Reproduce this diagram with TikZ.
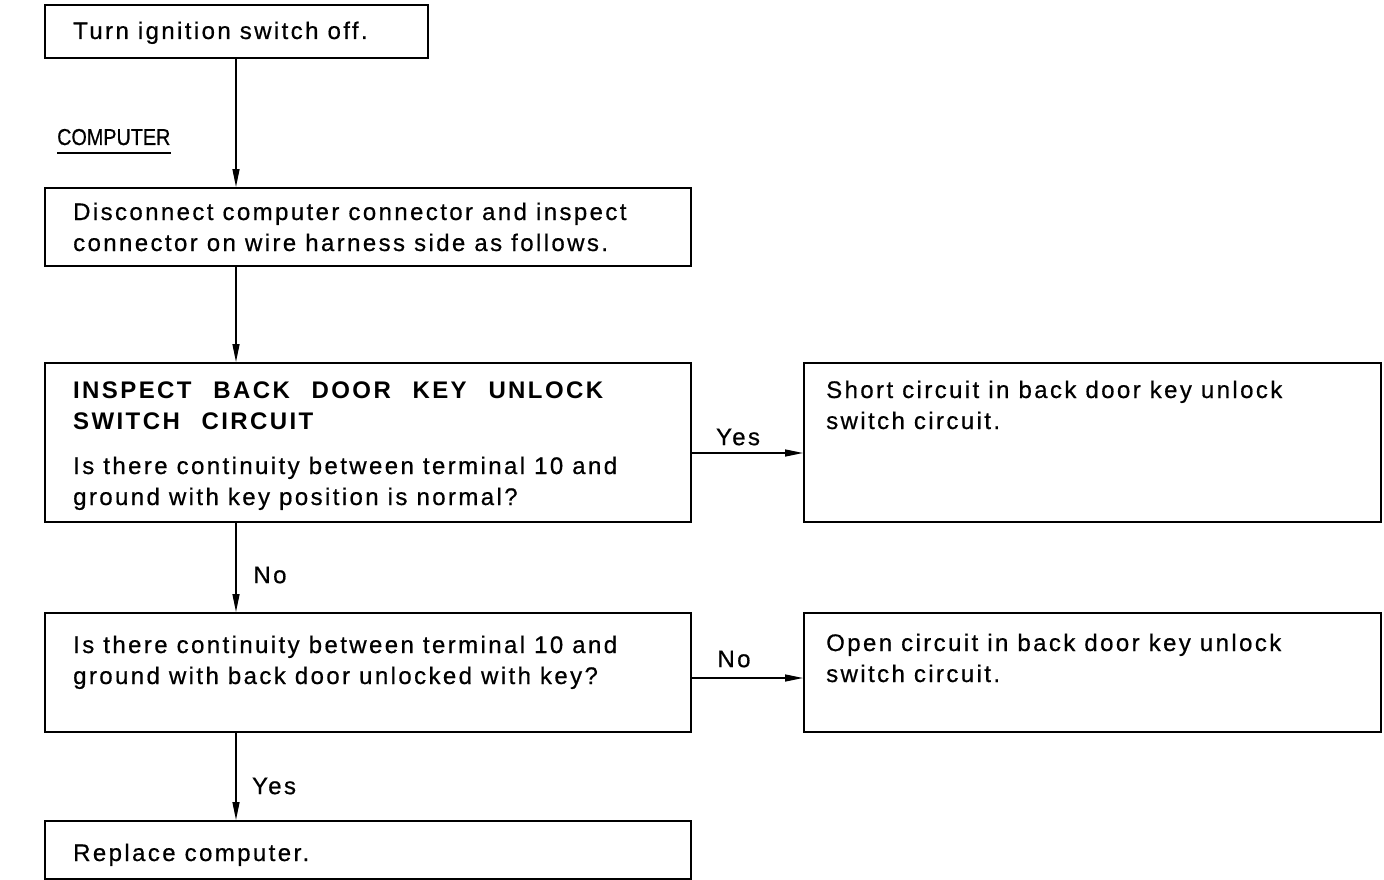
\documentclass[tikz,border=0pt]{standalone}
\usepackage{fontspec}
\setmainfont[LetterSpace=10,FakeBold=0.6,BoldFeatures={WordSpace=2.4,FakeBold=0}]{Liberation Sans}
\newfontfamily\plainsf{Liberation Sans}[FakeBold=0.6]
\usetikzlibrary{arrows.meta}
\tikzset{
  box/.style={draw, line width=1.6pt, inner sep=0pt, anchor=north west},
  txt/.style={inner sep=0pt, anchor=base west, align=left, font=\fontsize{24}{31}\selectfont},
  lbl/.style={inner sep=0pt, font=\fontsize{24}{31}\selectfont},
  conn/.style={line width=1.4pt, -{Triangle[length=18pt,width=7pt]}}
}
\begin{document}
\begin{tikzpicture}[x=1pt,y=-1pt]
\useasboundingbox (0,0) rectangle (1384,880);
% boxes
\node[box, minimum width=383pt, minimum height=53pt] (b1) at (44,4) {};
\node[box, minimum width=646pt, minimum height=78pt] (b2) at (44,187) {};
\node[box, minimum width=646pt, minimum height=159pt] (b3) at (44,362) {};
\node[box, minimum width=577pt, minimum height=159pt] (b4) at (803,362) {};
\node[box, minimum width=646pt, minimum height=119pt] (b5) at (44,612) {};
\node[box, minimum width=577pt, minimum height=119pt] (b6) at (803,612) {};
\node[box, minimum width=646pt, minimum height=58pt] (b7) at (44,820) {};
% texts (multi-line nodes: base = last line baseline)
\node[txt] (t1) at (73,39) {Turn ignition switch off.};
\node[txt, font=\fontsize{23}{28}\plainsf] (comp) at (57,145) {\scalebox{0.86}[1]{COMPUTER}};
\draw[line width=1.2pt] ([yshift=-8pt]comp.base west) -- ([yshift=-8pt]comp.base east);
\node[txt] (t2) at (73,251) {Disconnect computer connector and inspect\\connector on wire harness side as follows.};
\node[txt, font=\fontsize{24}{31}\selectfont\bfseries] (t3h) at (73,429) {INSPECT BACK DOOR KEY UNLOCK\\SWITCH CIRCUIT};
\node[txt] (t3) at (73,505) {Is there continuity between terminal 10 and\\ground with key position is normal?};
\node[txt] (t4) at (826,429) {Short circuit in back door key unlock\\switch circuit.};
\node[txt] (t5) at (73,684) {Is there continuity between terminal 10 and\\ground with back door unlocked with key?};
\node[txt] (t6) at (826,682) {Open circuit in back door key unlock\\switch circuit.};
\node[txt] (t7) at (73,861) {Replace computer.};
% connectors
\coordinate (cx) at (236,0);
\coordinate (yy) at (0,453);
\coordinate (ny) at (0,678);
\draw[conn] (b1.south -| cx) -- (b2.north -| cx);
\draw[conn] (b2.south -| cx) -- (b3.north -| cx);
\draw[conn] (b3.south -| cx) -- (b5.north -| cx);
\draw[conn] (b5.south -| cx) -- (b7.north -| cx);
\draw[conn] (b3.east |- yy) -- (b4.west |- yy);
\draw[conn] (b5.east |- ny) -- (b6.west |- ny);
% labels
\node[lbl] (lyes1) at (738,437) {Yes};
\node[lbl] (lno1) at (270,575) {No};
\node[lbl] (lno2) at (734,659) {No};
\node[lbl] (lyes2) at (274,786) {Yes};
\end{tikzpicture}
\end{document}
